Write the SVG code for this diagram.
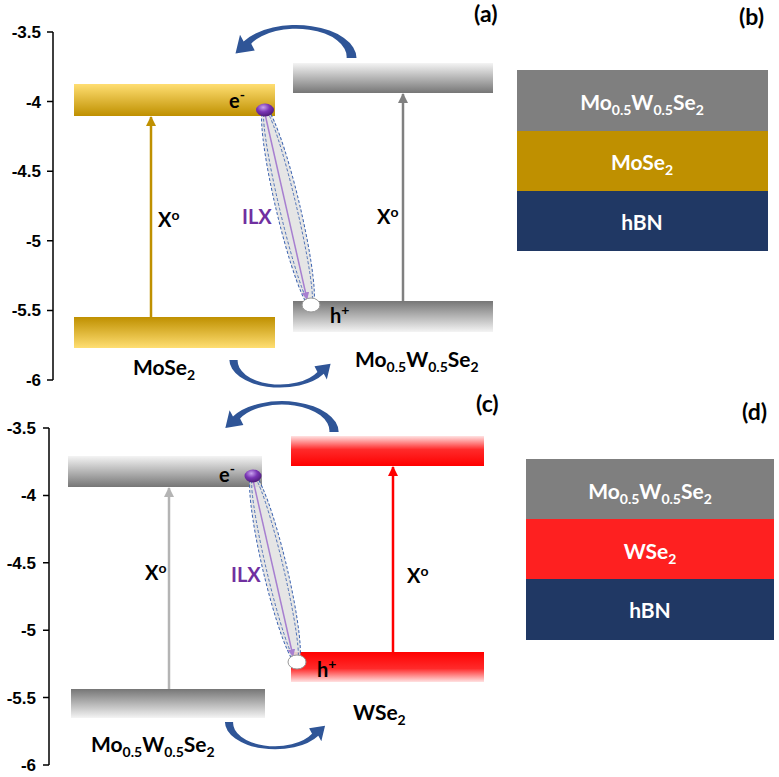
<svg xmlns="http://www.w3.org/2000/svg" width="779" height="777" viewBox="0 0 779 777">
<style>
.tick{font-family:"Liberation Sans",Arial,sans-serif;font-weight:bold;font-size:17px;text-anchor:end;fill:#000}
.lbl{font-family:Lato,"Open Sans","Liberation Sans",sans-serif;font-weight:bold;font-size:20px;fill:#000}
.big{font-size:21px}
.pn{font-size:23px}
.wht{fill:#fff;text-anchor:middle}
.ilx{fill:#7030a0}
.axis{stroke:#000;stroke-width:1.5;fill:none}
.crv{fill:#2f5597}
.exc{fill:#e2e2e2;fill-opacity:.9;stroke:#3a62b0;stroke-width:1;stroke-dasharray:3 2}
.exi{fill:none;stroke:#3a62b0;stroke-width:0.8;stroke-dasharray:3 2}
.hole{fill:#fff;stroke:#999;stroke-width:1}
.vx{stroke-width:2.5;fill:none}
</style>
<defs>
<linearGradient id="goldDn" x1="0" y1="0" x2="0" y2="1"><stop offset="0" stop-color="#ffde72"/><stop offset="1" stop-color="#bf9000"/></linearGradient>
<linearGradient id="goldUp" x1="0" y1="0" x2="0" y2="1"><stop offset="0" stop-color="#bf9000"/><stop offset="1" stop-color="#ffde72"/></linearGradient>
<linearGradient id="grayDn" x1="0" y1="0" x2="0" y2="1"><stop offset="0" stop-color="#f4f4f4"/><stop offset="1" stop-color="#767676"/></linearGradient>
<linearGradient id="grayUp" x1="0" y1="0" x2="0" y2="1"><stop offset="0" stop-color="#767676"/><stop offset="1" stop-color="#f4f4f4"/></linearGradient>
<linearGradient id="redDn" x1="0" y1="0" x2="0" y2="1"><stop offset="0" stop-color="#ffe2e2"/><stop offset="0.45" stop-color="#ff2a2a"/><stop offset="1" stop-color="#ff0000"/></linearGradient>
<linearGradient id="redUp" x1="0" y1="0" x2="0" y2="1"><stop offset="0" stop-color="#ff0000"/><stop offset="0.55" stop-color="#ff2a2a"/><stop offset="1" stop-color="#ffe2e2"/></linearGradient>
<radialGradient id="elec" cx="0.4" cy="0.3" r="0.7"><stop offset="0" stop-color="#c9a3ee"/><stop offset="0.5" stop-color="#7a35b5"/><stop offset="1" stop-color="#4e1d7a"/></radialGradient>
<marker id="ahGold" viewBox="0 0 10 10" refX="9" refY="5" markerWidth="4" markerHeight="4" orient="auto"><path d="M0,0 L10,5 L0,10 z" fill="#bf9000"/></marker>
<marker id="ahGray" viewBox="0 0 10 10" refX="9" refY="5" markerWidth="4" markerHeight="4" orient="auto"><path d="M0,0 L10,5 L0,10 z" fill="#808080"/></marker>
<marker id="ahLGray" viewBox="0 0 10 10" refX="9" refY="5" markerWidth="4" markerHeight="4" orient="auto"><path d="M0,0 L10,5 L0,10 z" fill="#b4b4b4"/></marker>
<marker id="ahRed" viewBox="0 0 10 10" refX="9" refY="5" markerWidth="4" markerHeight="4" orient="auto"><path d="M0,0 L10,5 L0,10 z" fill="#ff0000"/></marker>
<marker id="ahPurple" viewBox="0 0 10 10" refX="9" refY="5" markerWidth="5" markerHeight="5" orient="auto"><path d="M0,0 L10,5 L0,10 z" fill="#a77fd0"/></marker>
<path id="curve" d="M 55 0 A 55 30 0 0 0 -47.6 -15 L -50.9 -21.1 L -55 -4 L -37.5 -6.9 L -40.7 -13 A 46 25.5 0 0 1 46 0 Z"/>
</defs>

<!-- Panel (a) axis -->
<g id="axis-a">
<path class="axis" d="M53 32 V380 M47 32 H53 M47 101.6 H53 M47 171.2 H53 M47 240.8 H53 M47 310.4 H53 M47 380 H53"/>
<text class="tick" x="41" y="38">-3.5</text>
<text class="tick" x="41" y="107.6">-4</text>
<text class="tick" x="41" y="177.2">-4.5</text>
<text class="tick" x="41" y="246.8">-5</text>
<text class="tick" x="41" y="316.4">-5.5</text>
<text class="tick" x="41" y="386">-6</text>
</g>

<!-- Panel (c) axis -->
<g id="axis-c">
<path class="axis" d="M49 428 V765 M43 428 H49 M43 495.4 H49 M43 562.8 H49 M43 630.2 H49 M43 697.6 H49 M43 765 H49"/>
<text class="tick" x="36" y="434">-3.5</text>
<text class="tick" x="36" y="501.4">-4</text>
<text class="tick" x="36" y="568.8">-4.5</text>
<text class="tick" x="36" y="636.2">-5</text>
<text class="tick" x="36" y="703.6">-5.5</text>
<text class="tick" x="36" y="771">-6</text>
</g>

<!-- Panel (a) bands -->
<g id="a-mose2-cb"><rect x="74" y="84" width="201" height="32" fill="url(#goldDn)"/></g>
<g id="a-mose2-vb"><rect x="74" y="317" width="201" height="31" fill="url(#goldUp)"/></g>
<g id="a-alloy-cb"><rect x="293" y="63" width="200" height="30" fill="url(#grayDn)"/></g>
<g id="a-alloy-vb"><rect x="293" y="301" width="200" height="31" fill="url(#grayUp)"/></g>

<!-- Panel (c) bands -->
<g id="c-alloy-cb"><rect x="68" y="456" width="194" height="31" fill="url(#grayDn)"/></g>
<g id="c-alloy-vb"><rect x="71" y="689" width="194" height="29" fill="url(#grayUp)"/></g>
<g id="c-wse2-cb"><rect x="291" y="436" width="193" height="30" fill="url(#redDn)"/></g>
<g id="c-wse2-vb"><rect x="291" y="652" width="193" height="30" fill="url(#redUp)"/></g>

<!-- Connectors -->
<g id="connectors">
<line class="vx" x1="151" y1="317" x2="151" y2="117" stroke="#bf9000" marker-end="url(#ahGold)"/>
<line class="vx" x1="403" y1="301" x2="403" y2="94" stroke="#808080" marker-end="url(#ahGray)"/>
<line class="vx" x1="169" y1="689" x2="169" y2="488" stroke="#b4b4b4" marker-end="url(#ahLGray)"/>
<line class="vx" x1="393" y1="652" x2="393" y2="467" stroke="#ff0000" marker-end="url(#ahRed)"/>
<use href="#curve" class="crv" transform="translate(296 58) scale(1.1)"/>
<use href="#curve" class="crv" transform="translate(280 360) rotate(180) scale(0.92)"/>
<use href="#curve" class="crv" transform="translate(282 432) scale(1.03)"/>
<use href="#curve" class="crv" transform="translate(275 722) rotate(180) scale(0.91)"/>
</g>

<!-- Panel (a) interlayer exciton -->
<g id="a-ilx">
<g transform="translate(288 207.5) rotate(76.7)"><ellipse class="exc" cx="0" cy="0" rx="103" ry="12"/><ellipse class="exi" cx="0" cy="0" rx="100" ry="8.5"/></g>
<line x1="265" y1="114" x2="307" y2="299" stroke="#a77fd0" stroke-width="1.5" marker-end="url(#ahPurple)"/>
<ellipse cx="265" cy="110" rx="9" ry="6.5" fill="url(#elec)"/>
<ellipse class="hole" cx="311" cy="305" rx="9" ry="7"/>
</g>

<!-- Panel (c) interlayer exciton -->
<g id="c-ilx">
<g transform="translate(275 569) rotate(76.7)"><ellipse class="exc" cx="0" cy="0" rx="98" ry="12"/><ellipse class="exi" cx="0" cy="0" rx="95" ry="8.5"/></g>
<line x1="253" y1="480" x2="293" y2="656" stroke="#a77fd0" stroke-width="1.5" marker-end="url(#ahPurple)"/>
<ellipse cx="253" cy="476" rx="8.5" ry="6.5" fill="url(#elec)"/>
<ellipse class="hole" cx="297" cy="662" rx="9" ry="7"/>
</g>

<!-- Panel (a) labels -->
<g id="a-labels">
<text class="lbl pn" x="474" y="22">(a)</text>
<text class="lbl" x="229" y="108">e<tspan dy="-8" font-size="14">-</tspan></text>
<text class="lbl" x="330" y="323">h<tspan dy="-8" font-size="14">+</tspan></text>
<text class="lbl" x="158" y="227">X<tspan dy="-7" font-size="14">o</tspan></text>
<text class="lbl" x="377" y="224">X<tspan dy="-7" font-size="14">o</tspan></text>
<text class="lbl ilx" x="242" y="224">ILX</text>
<text class="lbl big" x="133" y="375">MoSe<tspan dy="5" font-size="14">2</tspan></text>
<text class="lbl big" x="355" y="367">Mo<tspan dy="5" font-size="14">0.5</tspan><tspan dy="-5">W</tspan><tspan dy="5" font-size="14">0.5</tspan><tspan dy="-5">Se</tspan><tspan dy="5" font-size="14">2</tspan></text>
</g>

<!-- Panel (c) labels -->
<g id="c-labels">
<text class="lbl pn" x="476" y="412">(c)</text>
<text class="lbl" x="219" y="482">e<tspan dy="-8" font-size="14">-</tspan></text>
<text class="lbl" x="317" y="677">h<tspan dy="-8" font-size="14">+</tspan></text>
<text class="lbl" x="145" y="580">X<tspan dy="-7" font-size="14">o</tspan></text>
<text class="lbl" x="407" y="583">X<tspan dy="-7" font-size="14">o</tspan></text>
<text class="lbl ilx" x="231" y="582">ILX</text>
<text class="lbl big" x="91" y="752">Mo<tspan dy="5" font-size="14">0.5</tspan><tspan dy="-5">W</tspan><tspan dy="5" font-size="14">0.5</tspan><tspan dy="-5">Se</tspan><tspan dy="5" font-size="14">2</tspan></text>
<text class="lbl big" x="353" y="720">WSe<tspan dy="5" font-size="14">2</tspan></text>
</g>

<!-- Panel (b) stack -->
<g id="b-stack">
<text class="lbl pn" x="739" y="25">(b)</text>
<g id="b-alloy"><rect x="517" y="70" width="251" height="61" fill="#7f7f7f"/>
<text class="lbl big wht" x="642" y="110">Mo<tspan dy="5" font-size="14">0.5</tspan><tspan dy="-5">W</tspan><tspan dy="5" font-size="14">0.5</tspan><tspan dy="-5">Se</tspan><tspan dy="5" font-size="14">2</tspan></text></g>
<g id="b-mose2"><rect x="517" y="131" width="251" height="60" fill="#bf9000"/>
<text class="lbl big wht" x="642" y="170">MoSe<tspan dy="5" font-size="14">2</tspan></text></g>
<g id="b-hbn"><rect x="517" y="191" width="251" height="60" fill="#203864"/>
<text class="lbl big wht" x="642" y="230">hBN</text></g>
</g>

<!-- Panel (d) stack -->
<g id="d-stack">
<text class="lbl pn" x="742" y="420">(d)</text>
<g id="d-alloy"><rect x="526" y="459" width="248" height="60" fill="#7f7f7f"/>
<text class="lbl big wht" x="650" y="499">Mo<tspan dy="5" font-size="14">0.5</tspan><tspan dy="-5">W</tspan><tspan dy="5" font-size="14">0.5</tspan><tspan dy="-5">Se</tspan><tspan dy="5" font-size="14">2</tspan></text></g>
<g id="d-wse2"><rect x="526" y="519" width="248" height="60" fill="#fe2020"/>
<text class="lbl big wht" x="650" y="559">WSe<tspan dy="5" font-size="14">2</tspan></text></g>
<g id="d-hbn"><rect x="526" y="579" width="248" height="61" fill="#203864"/>
<text class="lbl big wht" x="650" y="618">hBN</text></g>
</g>
</svg>
